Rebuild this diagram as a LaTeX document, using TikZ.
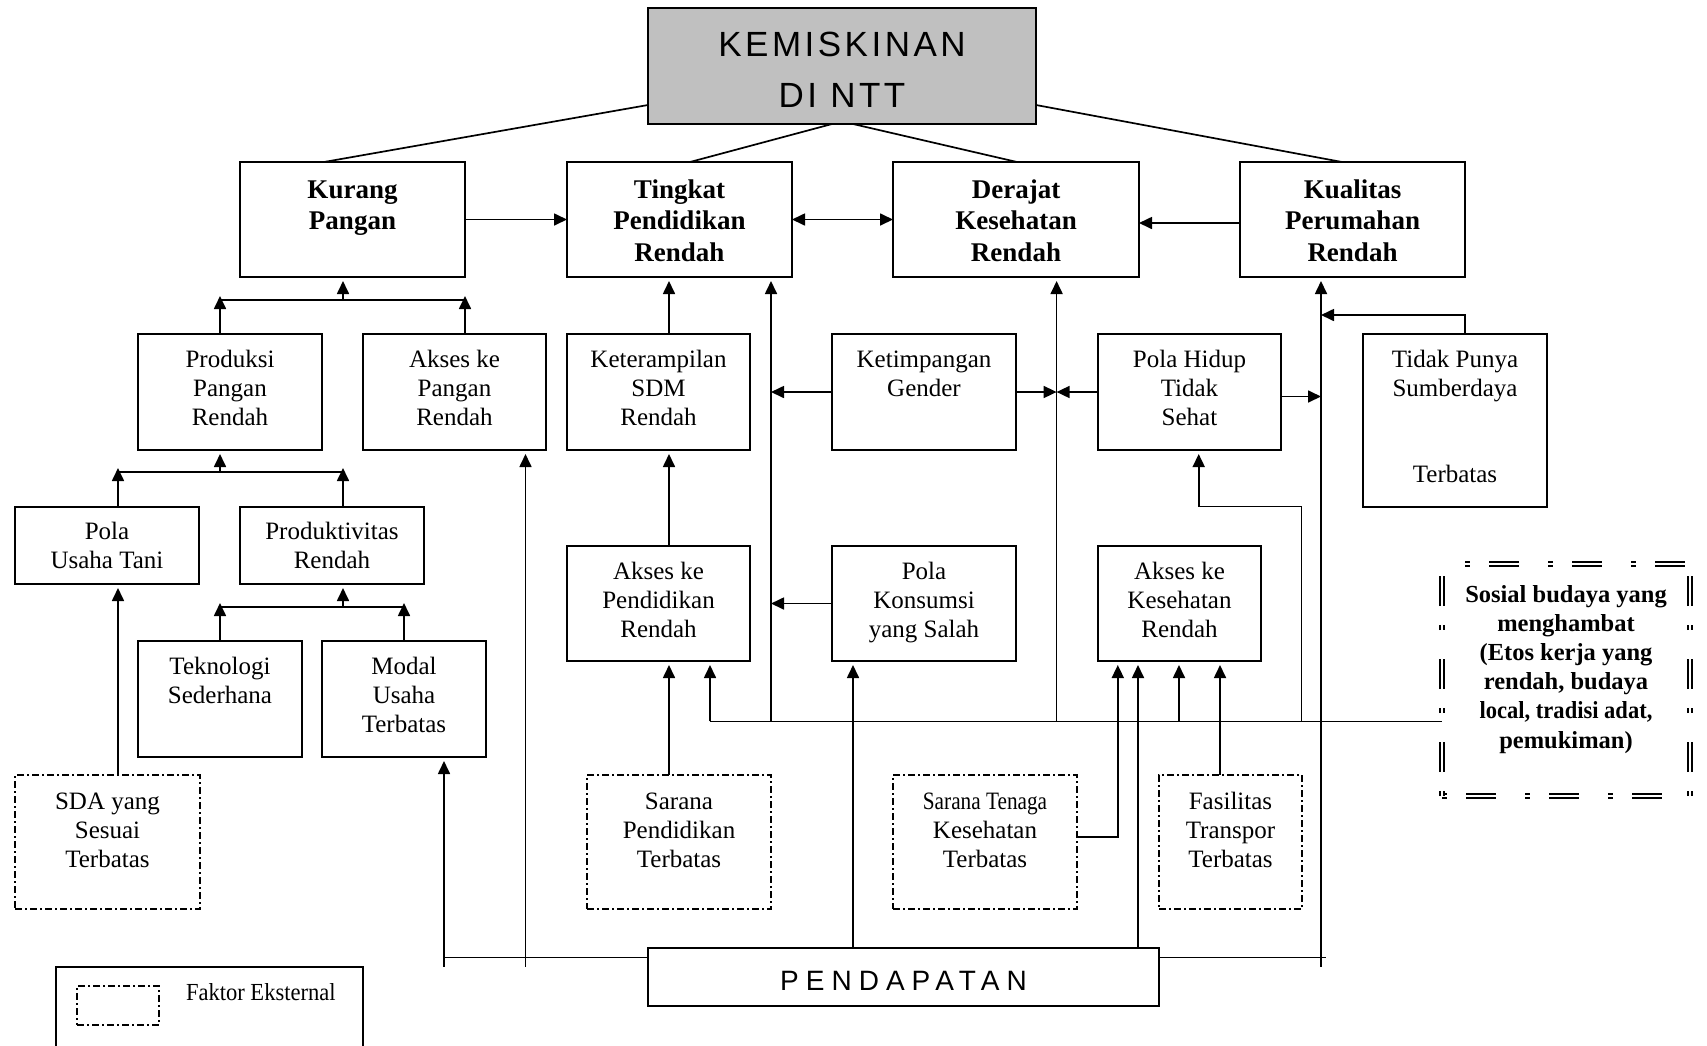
\documentclass[tikz,border=0pt]{standalone}
\usepackage{fontspec}
\setmainfont{Liberation Serif}
\newfontfamily\sansf{Liberation Sans}[LetterSpace=10]
\newfontfamily\sanspend{Liberation Sans}[LetterSpace=25]
\newfontfamily\condf{Liberation Serif}[FakeStretch=0.85]
\newfontfamily\narrowf{Liberation Serif}[FakeStretch=0.92]
\usetikzlibrary{arrows.meta,calc}
\definecolor{kemgray}{RGB}{192,192,192}
\begin{document}
\begin{tikzpicture}[x=1pt,y=-1pt,
  every node/.style={inner sep=0pt, outer sep=0pt},
  rbox/.style={draw, line width=1.7pt, rectangle, anchor=north west},
  xbox/.style={draw, line width=1.4pt, dash pattern=on 7pt off 3pt on 2pt off 3pt, rectangle, anchor=north west},
  sosline/.style={draw, double, double distance=2.5pt, line width=1.3pt, dash pattern=on 5pt off 19pt on 30pt off 29pt},
  btxt/.style={anchor=north, align=center, font=\fontsize{27}{31.7}\selectfont\bfseries},
  rtxt/.style={anchor=north, align=center, font=\fontsize{25}{29}\selectfont},
  stxt/.style={anchor=north, align=center, font=\fontsize{24.5}{29.2}\selectfont\bfseries},
  con/.style={line width=1.7pt},
  arr/.style={con, -{Triangle[length=13pt,width=12pt]}},
  darr/.style={con, {Triangle[length=13pt,width=12pt]}-{Triangle[length=13pt,width=12pt]}},
  varr/.style={arr, shorten >=4pt},
]
\useasboundingbox (0,0) rectangle (1707,1045);

% ---------- boxes ----------
\node[rbox, fill=kemgray, line width=2.2pt, minimum width=388, minimum height=116] (kem) at (648,8) {};
\node[rbox, minimum width=225, minimum height=115] (kp)  at (240,162) {};
\node[rbox, minimum width=225, minimum height=115] (tp)  at (567,162) {};
\node[rbox, minimum width=246, minimum height=115] (dk)  at (893,162) {};
\node[rbox, minimum width=225, minimum height=115] (kpr) at (1240,162) {};

\node[rbox, minimum width=184, minimum height=116] (ppr)  at (138,334) {};
\node[rbox, minimum width=183, minimum height=116] (akp)  at (363,334) {};
\node[rbox, minimum width=183, minimum height=116] (ksdm) at (567,334) {};
\node[rbox, minimum width=184, minimum height=116] (kg)   at (832,334) {};
\node[rbox, minimum width=183, minimum height=116] (phts) at (1098,334) {};
\node[rbox, minimum width=184, minimum height=173] (tps)  at (1363,334) {};

\node[rbox, minimum width=184, minimum height=77] (put) at (15,507) {};
\node[rbox, minimum width=184, minimum height=77] (pr)  at (240,507) {};

\node[rbox, minimum width=183, minimum height=115] (akpend) at (567,546) {};
\node[rbox, minimum width=184, minimum height=115] (pks)    at (832,546) {};
\node[rbox, minimum width=163, minimum height=115] (akk)    at (1098,546) {};

\node[rbox, minimum width=164, minimum height=116] (ts)  at (138,641) {};
\node[rbox, minimum width=164, minimum height=116] (mut) at (322,641) {};

\node[xbox, minimum width=185, minimum height=134] (sda) at (15,775) {};
\node[xbox, minimum width=184, minimum height=134] (spt) at (587,775) {};
\node[xbox, minimum width=184, minimum height=134] (stk) at (893,775) {};
\node[xbox, minimum width=143, minimum height=134] (ftt) at (1159,775) {};

\node[rbox, minimum width=511, minimum height=58] (pend) at (648,948) {};

% Sosial budaya box (double dash-dot border, drawn side by side)
\node[rectangle, anchor=north west, minimum width=248, minimum height=232] (sos) at (1442,564) {};
\draw[sosline, dash phase=60pt] (sos.north west) -- (sos.north east);
\draw[sosline] (sos.south west) -- (sos.south east);
\draw[sosline] (sos.south west) -- (sos.north west);
\draw[sosline] (sos.south east) -- (sos.north east);

% legend
\draw[line width=1.6pt] (56,1050) -- (56,967) -- (363,967) -- (363,1050);
\node[xbox, minimum width=82, minimum height=39] (legbox) at (77,986) {};
\node[anchor=base west, font=\narrowf\fontsize{24.5}{29}\selectfont] (legtxt) at (186,1000) {Faktor Eksternal};

% ---------- texts ----------
\node[anchor=north, align=center, font=\sansf\fontsize{35}{50.7}\selectfont] (kem-t) at (kem.north) {\rule{0pt}{48.7pt}KEMISKINAN\\DI NTT};
\node[anchor=north, font=\sanspend\fontsize{28}{30}\selectfont] (pend-t) at (pend.north) {\rule{0pt}{42pt}PENDAPATAN};

\node[btxt] (kp-t)  at (kp.north)  {\rule{0pt}{36pt}Kurang\\Pangan};
\node[btxt] (tp-t)  at (tp.north)  {\rule{0pt}{36pt}Tingkat\\Pendidikan\\Rendah};
\node[btxt] (dk-t)  at (dk.north)  {\rule{0pt}{36pt}Derajat\\Kesehatan\\Rendah};
\node[btxt] (kpr-t) at (kpr.north) {\rule{0pt}{36pt}Kualitas\\Perumahan\\Rendah};

\node[rtxt] (ppr-t)  at (ppr.north)  {\rule{0pt}{33pt}Produksi\\Pangan\\Rendah};
\node[rtxt] (akp-t)  at (akp.north)  {\rule{0pt}{33pt}Akses ke\\Pangan\\Rendah};
\node[rtxt] (ksdm-t) at (ksdm.north) {\rule{0pt}{33pt}Keterampilan\\SDM\\Rendah};
\node[rtxt] (kg-t)   at (kg.north)   {\rule{0pt}{33pt}Ketimpangan\\Gender};
\node[rtxt] (phts-t) at (phts.north) {\rule{0pt}{33pt}Pola Hidup\\Tidak\\Sehat};
\node[rtxt] (tps-t)  at (tps.north)  {\rule{0pt}{33pt}Tidak Punya\\Sumberdaya\\[57pt]Terbatas};

\node[rtxt] (put-t) at (put.north) {\rule{0pt}{32.5pt}Pola\\Usaha Tani};
\node[rtxt] (pr-t)  at (pr.north)  {\rule{0pt}{32.5pt}Produktivitas\\Rendah};

\node[rtxt] (akpend-t) at (akpend.north) {\rule{0pt}{33pt}Akses ke\\Pendidikan\\Rendah};
\node[rtxt] (pks-t)    at (pks.north)    {\rule{0pt}{33pt}Pola\\Konsumsi\\yang Salah};
\node[rtxt] (akk-t)    at (akk.north)    {\rule{0pt}{33pt}Akses ke\\Kesehatan\\Rendah};

\node[rtxt] (ts-t)  at (ts.north)  {\rule{0pt}{33pt}Teknologi\\Sederhana};
\node[rtxt] (mut-t) at (mut.north) {\rule{0pt}{33pt}Modal\\Usaha\\Terbatas};

\node[rtxt] (sda-t) at (sda.north) {\rule{0pt}{34pt}SDA yang\\Sesuai\\Terbatas};
\node[rtxt] (spt-t) at (spt.north) {\rule{0pt}{34pt}Sarana\\Pendidikan\\Terbatas};
\node[rtxt] (stk-t) at (stk.north) {\rule{0pt}{34pt}{\condf Sarana Tenaga}\\Kesehatan\\Terbatas};
\node[rtxt] (ftt-t) at (ftt.north) {\rule{0pt}{34pt}Fasilitas\\Transpor\\Terbatas};

\node[stxt] (sos-t) at (sos.north) {\rule{0pt}{38pt}Sosial budaya yang\\menghambat\\(Etos kerja yang\\rendah, budaya\\{\narrowf local, tradisi adat,}\\pemukiman)};

% ---------- connectors ----------
% from KEMISKINAN
\draw[con] ([yshift=-97pt]kem.north west) -- ([xshift=84pt]kp.north west);
\draw[con] ([xshift=184pt]kem.south west) -- ([xshift=123pt]tp.north west);
\draw[con] ([xshift=205pt]kem.south west) -- ([xshift=124pt]dk.north west);
\draw[con] ([yshift=-97pt]kem.north east) -- ([xshift=102pt]kpr.north west);

% top row links
\draw[arr] (kp.east) -- (tp.west);
\draw[darr] (tp.east) -- (dk.west);
\draw[arr] ([yshift=-3.5pt]kpr.west) -- ([yshift=-3.5pt]dk.east);

% bar under Kurang Pangan
\coordinate (b1l) at (220,300);
\coordinate (b1r) at (465,300);
\coordinate (b1m) at (343,300);
\draw[arr] (ppr.north -| b1l) -- ([yshift=4pt]b1l);
\draw[arr] (akp.north -| b1r) -- ([yshift=4pt]b1r);
\draw[con] (b1l) -- (b1r);
\draw[varr] (b1m) -- (kp.south -| b1m);

% bar under Produksi
\coordinate (b2l) at (118,472);
\coordinate (b2r) at (343,472);
\coordinate (b2m) at (220,472);
\draw[arr] (put.north -| b2l) -- ([yshift=4pt]b2l);
\draw[arr] (pr.north -| b2r) -- ([yshift=4pt]b2r);
\draw[con] (b2l) -- (b2r);
\draw[varr] (b2m) -- (ppr.south -| b2m);

% bar under Produktivitas
\coordinate (b3l) at (220,607);
\coordinate (b3r) at (404,607);
\coordinate (b3m) at (343,607);
\draw[arr] (ts.north -| b3l) -- ([yshift=4pt]b3l);
\draw[arr] (mut.north -| b3r) -- ([yshift=4pt]b3r);
\draw[con] (b3l) -- (b3r);
\draw[varr] (b3m) -- (pr.south -| b3m);

% SDA
\draw[varr] (sda.north -| b2l) -- (put.south -| b2l);

% PENDAPATAN left
\coordinate (pjl) at (444,957.5);
\coordinate (pja) at (525.5,957.5);
\draw[con] (pend.west |- pjl) -- (pjl);
\draw[varr] ([yshift=-9pt]pjl) -- (mut.south -| pjl);
\draw[varr] ([yshift=-9pt]pja) -- (akp.south -| pja);

% PENDAPATAN right
\coordinate (pjr) at (1325.5,957.5);
\coordinate (vk) at (1321,966.5);
\draw[con] (pend.east |- pjr) -- (pjr);
\draw[varr] (vk) -- (kpr.south -| vk);

% education column
\coordinate (c669) at (669,0);
\draw[varr] (ksdm.north -| c669) -- (tp.south -| c669);
\draw[varr] (akpend.north -| c669) -- (ksdm.south -| c669);
\draw[varr] (spt.north -| c669) -- (akpend.south -| c669);

% bus from Sosial budaya
\coordinate (busl) at (710,721.4);
\draw[con] (busl) -- (sos.west |- busl);
\draw[varr] (busl) -- (akpend.south -| busl);
\coordinate (v771) at (771,721.4);
\draw[varr] (v771) -- (tp.south -| v771);
\draw[arr] (kg.west) -- (kg.west -| v771);
\draw[arr] (pks.west) -- (pks.west -| v771);
\coordinate (v1057) at (1056.6,721.4);
\draw[varr] (v1057) -- (dk.south -| v1057);
\draw[arr] (kg.east) -- (kg.east -| v1057);
\draw[arr] (phts.west) -- (phts.west -| v1057);
\draw[arr] ([yshift=-4.5pt]phts.east) -- ([yshift=-4.5pt]phts.east -| vk);

% Tidak Punya Sumberdaya
\coordinate (tpsj) at (1321,315);
\draw[arr] ([xshift=10pt]tps.north) |- (tpsj);

% Pola Hidup feed
\coordinate (ph1) at (1301.5,721.4);
\coordinate (ph2) at (1198.7,506.5);
\draw[varr] (ph1) |- (ph2) -- (phts.south -| ph2);

% Pola Konsumsi from PENDAPATAN
\coordinate (c853) at (853,0);
\draw[varr] (pend.north -| c853) -- (pks.south -| c853);

% Akses ke Kesehatan inputs
\coordinate (a1) at (1117.8,836.8);
\draw[varr] (stk.east |- a1) -| (akk.south -| a1);
\coordinate (a2) at (1138,0);
\draw[varr] (pend.north -| a2) -- (akk.south -| a2);
\coordinate (a3) at (1179,721.4);
\draw[varr] (a3) -- (akk.south -| a3);
\coordinate (a4) at (1220,0);
\draw[varr] (ftt.north -| a4) -- (akk.south -| a4);

\end{tikzpicture}
\end{document}
